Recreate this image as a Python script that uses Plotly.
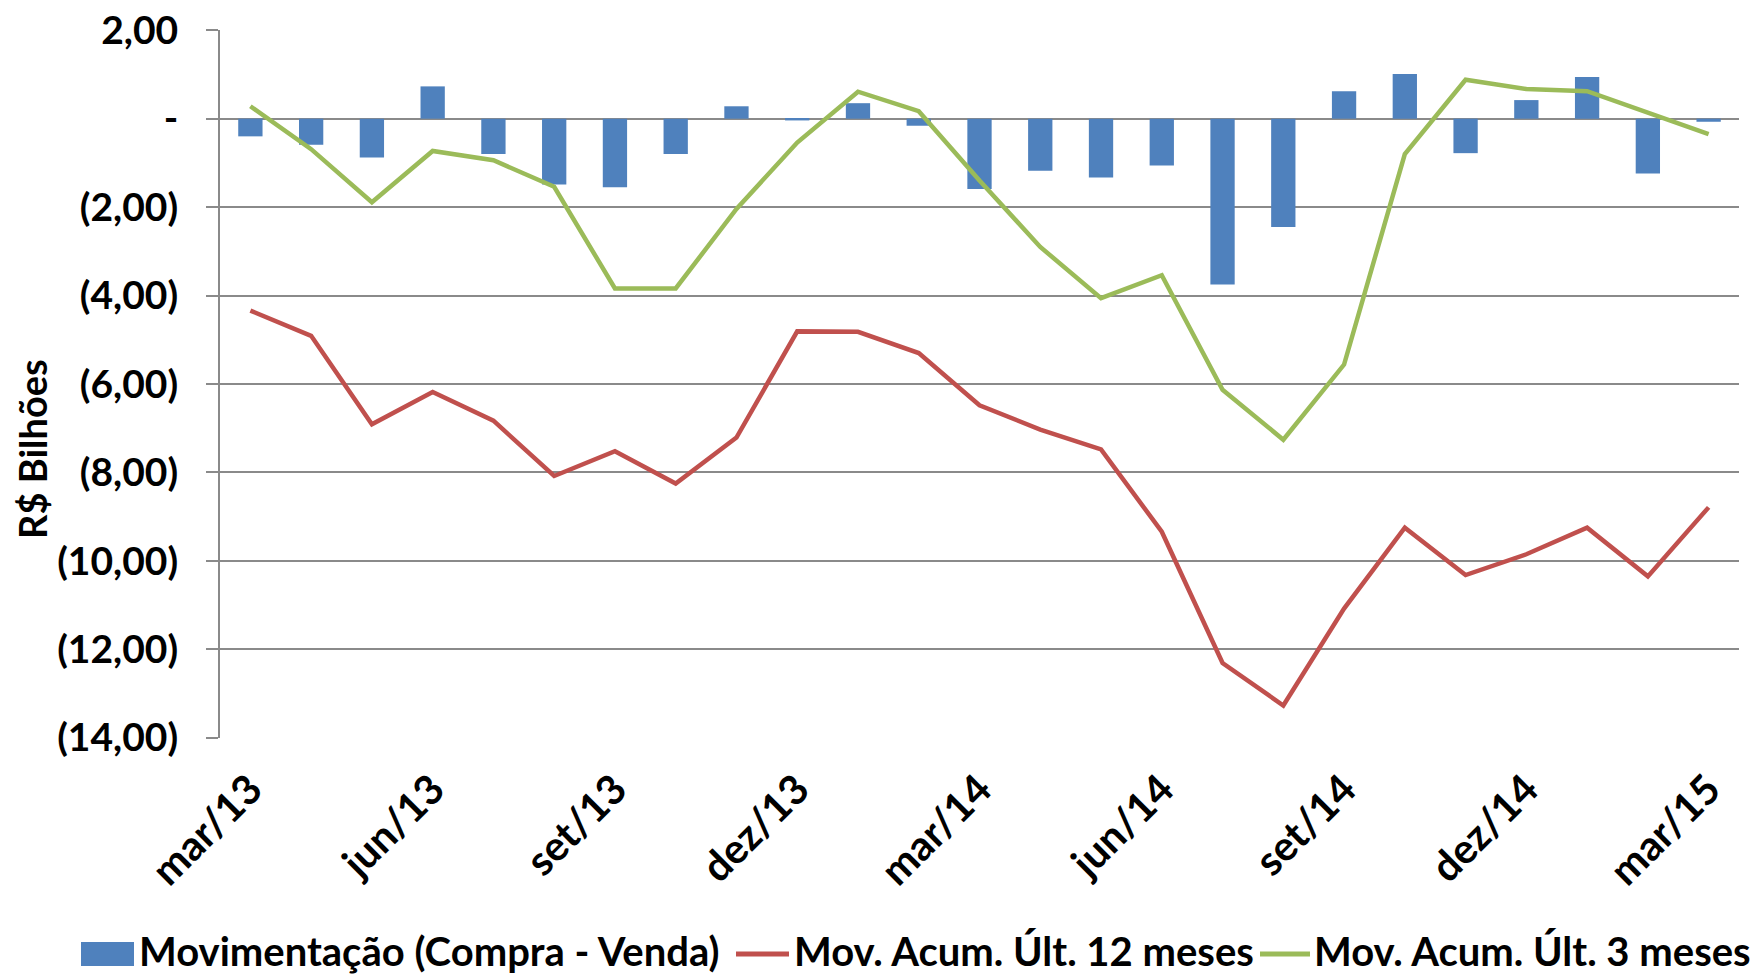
import plotly.graph_objects as go

months = ["mar/13", "abr/13", "mai/13", "jun/13", "jul/13", "ago/13", "set/13", "out/13",
          "nov/13", "dez/13", "jan/14", "fev/14", "mar/14", "abr/14", "mai/14", "jun/14",
          "jul/14", "ago/14", "set/14", "out/14", "nov/14", "dez/14", "jan/15", "fev/15", "mar/15"]

movimentacao = [-0.40, -0.59, -0.88, 0.73, -0.80, -1.49, -1.55, -0.80, 0.28, -0.04, 0.35, -0.16,
                -1.59, -1.18, -1.33, -1.06, -3.75, -2.45, 0.62, 1.01, -0.78, 0.42, 0.94, -1.24, -0.07]

acum_12m = [-4.34, -4.91, -6.91, -6.18, -6.83, -8.08, -7.52, -8.25, -7.21, -4.81, -4.82, -5.30,
            -6.48, -7.03, -7.48, -9.34, -12.31, -13.27, -11.08, -9.25, -10.32, -9.85, -9.25, -10.35, -8.79]

acum_3m = [0.28, -0.69, -1.89, -0.73, -0.94, -1.54, -3.84, -3.84, -2.04, -0.54, 0.61, 0.17,
           -1.40, -2.90, -4.06, -3.54, -6.13, -7.26, -5.56, -0.80, 0.88, 0.67, 0.62, 0.13, -0.35]

y_ticks = [2, 0, -2, -4, -6, -8, -10, -12, -14]
y_tick_text = ["2,00", "-", "(2,00)", "(4,00)", "(6,00)", "(8,00)", "(10,00)", "(12,00)", "(14,00)"]
x_tick_labels = ["mar/13", "jun/13", "set/13", "dez/13", "mar/14", "jun/14", "set/14", "dez/14", "mar/15"]

names = ["Movimentação (Compra - Venda)", "Mov. Acum. Últ. 12 meses", "Mov. Acum. Últ. 3 meses"]
colors = ["#4F81BD", "#C0504D", "#9BBB59"]

FONT = "Lato"
W, H = 1762, 974
# plot area in reference pixels: x 220..1739, y 30..738
ML, MT = 220, 30
MR = W - 1739
MB = H - 738
PW, PH = W - ML - MR, H - MT - MB


def px_x(px):
    return (px - ML) / PW


def px_y(py):
    return (H - MB - py) / PH


fig = go.Figure()
fig.add_trace(go.Bar(x=months, y=movimentacao, name=names[0],
                     marker=dict(color=colors[0], line=dict(width=0))))
fig.add_trace(go.Scatter(x=months, y=acum_12m, mode="lines", name=names[1],
                         line=dict(color=colors[1], width=4.5)))
fig.add_trace(go.Scatter(x=months, y=acum_3m, mode="lines", name=names[2],
                         line=dict(color=colors[2], width=4.5)))

fig.update_layout(
    width=W, height=H,
    margin=dict(l=ML, r=MR, t=MT, b=MB),
    paper_bgcolor="white", plot_bgcolor="white",
    bargap=0.6,
    font=dict(family=FONT, color="black"),
    showlegend=False,
)

fig.update_yaxes(range=[-14.005, 2.005], tickvals=y_ticks, ticktext=y_tick_text, automargin=False,
                 showgrid=True, gridcolor="#8A8A8A", gridwidth=2,
                 zeroline=False, showline=True, linecolor="#8A8A8A", linewidth=2,
                 ticks="outside", ticklen=12, tickcolor="#8A8A8A", tickwidth=2,
                 ticklabelstandoff=20,
                 tickfont=dict(family=FONT, size=39, color="black", weight="bold"))

fig.update_xaxes(type="category", tickmode="array", tickvals=x_tick_labels, ticktext=x_tick_labels,
                 automargin=False, tickangle=-45, showgrid=False, showline=False, ticks="",
                 ticklabelstandoff=18,
                 tickfont=dict(family=FONT, size=41, color="black", weight="bold"))

fig.add_annotation(text="R$ Bilhões", xref="paper", yref="paper", x=px_x(32), y=px_y(449),
                   textangle=-90, showarrow=False, xanchor="center", yanchor="middle",
                   font=dict(family=FONT, size=38, color="black", weight="bold"))

# legend drawn manually (symbols + texts) at the bottom
leg_y = 954
legend_font = dict(family=FONT, size=40, color="black", weight="bold")
fig.add_shape(type="rect", xref="paper", yref="paper",
              x0=px_x(81), x1=px_x(134), y0=px_y(966), y1=px_y(942),
              fillcolor=colors[0], line=dict(width=0))
fig.add_shape(type="line", xref="paper", yref="paper",
              x0=px_x(736), x1=px_x(789), y0=px_y(leg_y), y1=px_y(leg_y),
              line=dict(color=colors[1], width=5))
fig.add_shape(type="line", xref="paper", yref="paper",
              x0=px_x(1260), x1=px_x(1310), y0=px_y(leg_y), y1=px_y(leg_y),
              line=dict(color=colors[2], width=5))
for name, x0 in zip(names, [137, 792, 1312]):
    fig.add_annotation(text=name, xref="paper", yref="paper", x=px_x(x0), y=px_y(951),
                       xanchor="left", yanchor="middle", showarrow=False, font=legend_font)

# remove the browser's default body margin so the figure fills the window exactly
fig.write_html("out.html", config={"displayModeBar": False},
               post_script="document.body.style.margin='0px';")
